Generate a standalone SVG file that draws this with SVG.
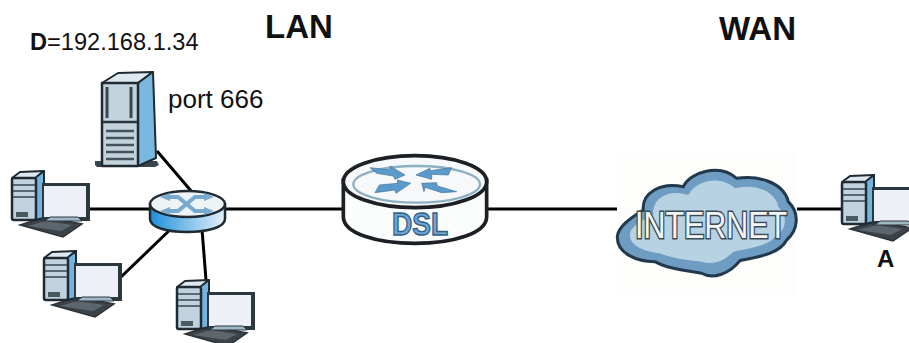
<svg xmlns="http://www.w3.org/2000/svg" width="909" height="343" viewBox="0 0 909 343">
<style>
text{font-family:"Liberation Sans",Arial,sans-serif;fill:#111}
.b{font-weight:bold}
.con line{stroke:#000;stroke-width:3;fill:none}
.ol{stroke:#1f2a32;stroke-linejoin:round}
.ar{fill:#5b9bcb;stroke:#3f6f95;stroke-width:2;stroke-linejoin:round}
</style>
<defs>
<linearGradient id="sw" x1="0" x2="1" y1="0" y2="0"><stop offset="0" stop-color="#1e8fdc"/><stop offset=".55" stop-color="#8cc6ec"/><stop offset="1" stop-color="#e4f1f9"/></linearGradient>
<g id="pc">
<path d="M20 225L45 217L82 224L63 237Z" fill="#3c4348" stroke="#2b3136" stroke-width="1.5"/>
<path d="M28 226L46 221L72 225L61 231Z" fill="#5d666c"/>
<path d="M12 178L20 172L44 171L36 178Z" fill="#dfe8ee" class="ol" stroke-width="2"/>
<path d="M35 178L44 171L44 218L35 220Z" fill="#74b3dc" class="ol" stroke-width="2"/>
<rect x="12" y="178" width="24" height="42" rx="2" fill="#bfd2de" class="ol" stroke-width="2.500"/>
<path d="M13 185H35M13 191H35M13 197H35" stroke="#39464f" stroke-width="1.500"/>
<rect x="16" y="212" width="12" height="5" fill="#4b5961"/>
<rect x="42" y="183" width="48" height="38" fill="#2c3840"/>
<rect x="44" y="186" width="42" height="31" fill="#edf1f7"/>
<path d="M45 221L50 217H78L82 221Z" fill="#9fb8c6" stroke="#2c3840"/>
</g>
</defs>
<rect x="617" y="153" width="180" height="142" fill="#fdfdfb"/>
<g class="con" id="connectors">
<line x1="88" y1="209" x2="152" y2="209"/>
<line x1="223" y1="209" x2="344" y2="209"/>
<line x1="157" y1="151" x2="192" y2="192"/>
<line x1="121" y1="277" x2="176" y2="224"/>
<line x1="202" y1="229" x2="206" y2="280"/>
<line x1="486" y1="209" x2="617" y2="209"/>
<line x1="797" y1="209" x2="843" y2="209"/>
</g>
<g id="label-lan"><text x="265" y="38" font-size="33" class="b">LAN</text></g>
<g id="label-wan"><text x="719" y="40" font-size="33" class="b">WAN</text></g>
<g id="label-d"><text x="30" y="50" font-size="23.6"><tspan class="b">D</tspan>=192.168.1.34</text></g>
<g id="server">
<path d="M95 161H157L159 165L155 167H97L95 165Z" fill="#39464f"/>
<path d="M102 83L118 73L153 72L138 83Z" fill="#dfe8ee" class="ol" stroke-width="2"/>
<path d="M138 83L153 72L156 158L138 166Z" fill="#7ab8df" class="ol" stroke-width="2"/>
<rect x="102" y="83" width="36" height="83" fill="#c3d3dd" class="ol" stroke-width="2.500"/>
<path d="M107 87V118M131 87V118" stroke="#39464f" stroke-width="3"/>
<path d="M103 122H137" stroke="#2a343b" stroke-width="2.500"/>
<path d="M106 131H134M106 138H134M106 145H134M106 152H134M106 159H134" stroke="#46535c" stroke-width="2.500"/>
<text x="168" y="108" font-size="26">port 666</text>
</g>
<g id="switch">
<path d="M150 204V219C150 227 166 232 187 232C208 232 225 227 225 219V204Z" fill="url(#sw)" stroke="#1f2a32" stroke-width="2.500"/>
<ellipse cx="187.500" cy="204" rx="37.500" ry="13" fill="#eef3f6" stroke="#1f2a32" stroke-width="2.500"/>
<path d="M168 197L178 197L195 211L206 211M168 211L178 211L195 197L206 197" fill="none" stroke="#78a9cf" stroke-width="4"/>
<path d="M204 193L214 197L204 201ZM204 207L214 211L204 215ZM170 193L160 197L170 201ZM170 207L160 211L170 215Z" fill="#78a9cf"/>
</g>
<g id="pc-1"><use href="#pc"/></g>
<g id="pc-2"><use href="#pc" x="32" y="80"/></g>
<g id="pc-3"><use href="#pc" x="165" y="109"/></g>
<g id="router">
<g transform="translate(320 130) scale(.3333)">
<path d="M70 150V260C70 310 170 340 285 340C400 340 500 310 500 260V150Z" fill="#fbfcfc" stroke="#1c2024" stroke-width="11"/>
<ellipse cx="285" cy="155" rx="215" ry="78" fill="#f6f8f9" stroke="#1c2024" stroke-width="11"/>
<ellipse cx="290" cy="163" rx="190" ry="55" fill="none" stroke="#8db0c4" stroke-width="7"/>
<path class="ar" d="M150 113L212 120L210 108L255 135L225 148L220 138L170 130Z"/>
<path class="ar" d="M288 135L330 115L330 122L395 113L385 135L335 133L335 148Z"/>
<path class="ar" d="M272 160L232 150L233 160L178 165L165 188L225 180L228 190Z"/>
<path class="ar" d="M305 160L350 158L352 168L410 185L365 188L315 172L312 185Z"/>
</g>
<text x="392" y="235" font-size="32" textLength="56" lengthAdjust="spacingAndGlyphs" style="fill:#6fa5d0;stroke:#2f5f88;stroke-width:1.400;font-weight:bold">DSL</text>
</g>
<g id="cloud">
<g transform="translate(600 140) scale(.3333)">
<path d="M52 290C55 260 90 235 130 210C125 160 180 125 250 140C270 95 360 70 410 115C470 105 550 125 565 185C600 220 595 270 560 300C540 340 480 350 420 362C390 400 340 420 305 400C250 390 200 385 165 365C110 365 50 340 52 290Z" fill="#6f9cc2" stroke="#22394c" stroke-width="9"/>
<path d="M90 280C95 255 130 240 160 225C155 175 205 145 265 165C290 120 360 105 405 145C460 130 525 150 535 200C565 230 560 270 525 290C500 320 450 325 400 335C370 365 340 375 305 365C260 360 215 355 180 340C130 335 85 315 90 280Z" fill="#b7d3e3"/>
</g>
<text x="635" y="238" font-size="36" textLength="152" lengthAdjust="spacingAndGlyphs" style="fill:#f4f6f6;stroke:#3c4a54;stroke-width:3;paint-order:stroke">INTERNET</text>
</g>
<g id="pc-a"><use href="#pc" x="830" y="4"/>
<text x="877" y="267" font-size="24" class="b">A</text></g>
</svg>
